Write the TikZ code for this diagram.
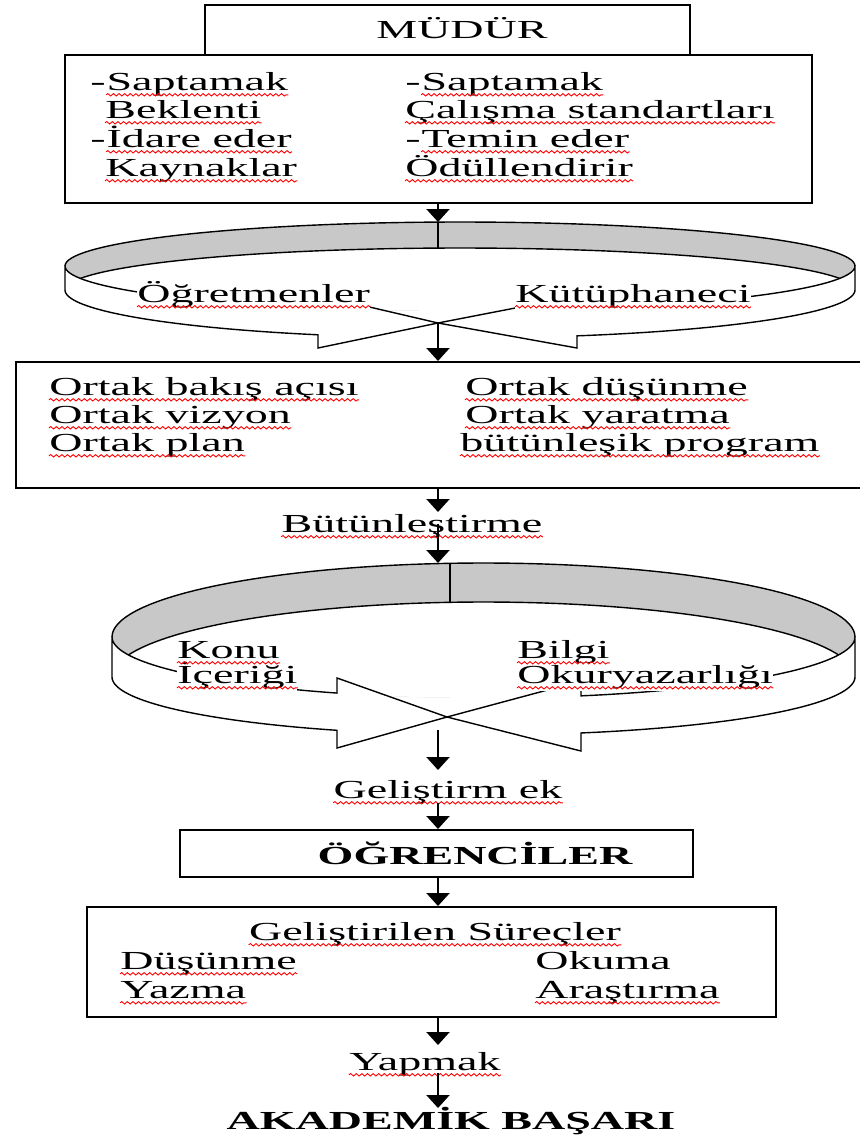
\documentclass[tikz,border=0pt]{standalone}
\usepackage{fontspec}
\setmainfont{Liberation Serif}[FakeStretch=1.77]
\usetikzlibrary{arrows.meta,decorations.pathmorphing,fit}
\definecolor{bandgrey}{RGB}{200,200,200}
\newcommand\fs{\fontsize{13pt}{15pt}\selectfont}
\newcommand\wv[1]{\draw[wavy] ([yshift=-2.4pt]#1.base west) -- ([yshift=-2.4pt]#1.base east);}
\begin{document}
\begin{tikzpicture}[x=0.5pt,y=-0.5pt,
  box/.style={draw, line width=1pt, inner sep=0pt},
  tx/.style={inner sep=0pt, anchor=base west, font=\fs},
  txc/.style={inner sep=0pt, anchor=base, font=\fs},
  wt/.style={fill=white, inner ysep=1pt},
  arr/.style={line width=1.1pt, -{Triangle[width=11.5pt,length=6.5pt]}},
  ring/.style={line width=0.7pt, line join=miter},
  wavy/.style={draw=red, line width=0.45pt, decorate, decoration={snake,amplitude=0.6pt,segment length=2.8pt}}]
\useasboundingbox (0,0) rectangle (859,1136);
\fill[white] (0,0) rectangle (859,1136);

% ---------- boxes ----------
\node[box, fit={(205,5) (690,55)}] (mudur) {};
\node[box, fit={(65,55) (812,203)}] (box1) {};
\node[box, fit={(16,362) (885,488)}] (box2) {};
\node[box, fit={(180,830) (693,877)}] (ogr) {};
\node[box, fit={(87,907) (776,1017)}] (box3) {};

% ---------- ring 1 ----------
\fill[bandgrey] plot[domain=180:0,samples=70,variable=\t] ({460+395*cos(\t)},{266-44*sin(\t)})
  -- plot[domain=0:180,samples=70,variable=\t] ({460+395*cos(\t)},{266+45*sin(\t)}) -- cycle;
\begin{scope}
\clip plot[domain=180:0,samples=70,variable=\t] ({460+395*cos(\t)},{266-44*sin(\t)})
  -- plot[domain=0:180,samples=70,variable=\t] ({460+395*cos(\t)},{266+45*sin(\t)}) -- cycle;
\fill[white] plot[domain=180:0,samples=70,variable=\t] ({460+395*cos(\t)},{290-42*sin(\t)})
  -- plot[domain=0:180,samples=70,variable=\t] ({460+395*cos(\t)},{290+48*sin(\t)}) -- cycle;
\draw[ring] plot[domain=180:0,samples=70,variable=\t] ({460+395*cos(\t)},{290-42*sin(\t)});
\end{scope}
\draw[ring] plot[domain=180:0,samples=70,variable=\t] ({460+395*cos(\t)},{266-44*sin(\t)});
\draw[ring] (438,222) -- (438,248);
\filldraw[ring, fill=white] (65,266) -- (65,290)
  -- plot[domain=180:111.07,samples=40,variable=\t] ({460+395*cos(\t)},{290+48*sin(\t)})
  -- (318,348) -- (438,323) -- (318,295)
  -- plot[domain=111.07:180,samples=40,variable=\t] ({460+395*cos(\t)},{266+45*sin(\t)}) -- cycle;
\filldraw[ring, fill=white] (855,266) -- (855,290)
  -- plot[domain=0:72.77,samples=40,variable=\t] ({460+395*cos(\t)},{290+48*sin(\t)})
  -- (577,348) -- (438,323) -- (577,296)
  -- plot[domain=72.77:0,samples=40,variable=\t] ({460+395*cos(\t)},{266+45*sin(\t)}) -- cycle;

% ---------- ring 2 ----------
\fill[bandgrey] plot[domain=180:0,samples=70,variable=\t] ({483.5+371.5*cos(\t)},{637-74*sin(\t)})
  -- plot[domain=0:180,samples=70,variable=\t] ({483.5+371.5*cos(\t)},{637+61*sin(\t)}) -- cycle;
\begin{scope}
\clip plot[domain=180:0,samples=70,variable=\t] ({483.5+371.5*cos(\t)},{637-74*sin(\t)})
  -- plot[domain=0:180,samples=70,variable=\t] ({483.5+371.5*cos(\t)},{637+61*sin(\t)}) -- cycle;
\fill[white] plot[domain=180:0,samples=70,variable=\t] ({483.5+371.5*cos(\t)},{677-75*sin(\t)})
  -- plot[domain=0:180,samples=70,variable=\t] ({483.5+371.5*cos(\t)},{677+58*sin(\t)}) -- cycle;
\draw[ring] plot[domain=180:0,samples=70,variable=\t] ({483.5+371.5*cos(\t)},{677-75*sin(\t)});
\end{scope}
\draw[ring] plot[domain=180:0,samples=70,variable=\t] ({483.5+371.5*cos(\t)},{637-74*sin(\t)});
\draw[ring] (450,563) -- (450,602);
\filldraw[ring, fill=white] (112,637) -- (112,677)
  -- plot[domain=180:113.22,samples=40,variable=\t] ({483.5+371.5*cos(\t)},{677+58*sin(\t)})
  -- (337,748) -- (447,717) -- (337,678)
  -- plot[domain=113.22:180,samples=40,variable=\t] ({483.5+371.5*cos(\t)},{637+61*sin(\t)}) -- cycle;
\filldraw[ring, fill=white] (855,637) -- (855,677)
  -- plot[domain=0:74.78,samples=40,variable=\t] ({483.5+371.5*cos(\t)},{677+58*sin(\t)})
  -- (581,751) -- (447,717) -- (581,681)
  -- plot[domain=74.78:0,samples=40,variable=\t] ({483.5+371.5*cos(\t)},{637+61*sin(\t)}) -- cycle;

% ---------- texts ----------
\node[txc] (tm) at (462,38) {MÜDÜR};

\node[tx] (d1) at (90,90) {-};
\node[tx] (t1) at (d1.base east) {Saptamak};
\node[tx] (t2) at (105,118) {Beklenti};
\node[tx] (d3) at (90,147) {-};
\node[tx] (t3) at (d3.base east) {İdare eder};
\node[tx] (t4) at (105,176) {Kaynaklar};
\node[tx] (d5) at (405,90) {-};
\node[tx] (t5) at (d5.base east) {Saptamak};
\node[tx] (t6) at (405,118) {Çalışma standartları};
\node[tx] (d7) at (405,147) {-};
\node[tx] (t7) at (d7.base east) {Temin eder};
\node[tx] (t8) at (405,176) {Ödüllendirir};

\node[tx, wt] (r1a) at (137,302) {Öğretmenler};
\node[tx, wt] (r1b) at (515,302) {Kütüphaneci};

\node[tx] (o1) at (49,395) {Ortak bakış açısı};
\node[tx] (o2) at (49,423) {Ortak vizyon};
\node[tx] (o3) at (49,451) {Ortak plan};
\node[tx] (o4) at (465,395) {Ortak düşünme};
\node[tx] (o5) at (465,423) {Ortak yaratma};
\node[tx] (o6) at (460,451) {bütünleşik program};

\node[txc] (but) at (412,532) {Bütünleştirme};

\node[tx, wt] (k1) at (177,658) {Konu};
\node[tx, wt] (k2) at (177,683) {İçeriği};
\node[tx, wt] (k3) at (517,658) {Bilgi};
\node[tx, wt] (k4) at (517,683) {Okuryazarlığı};

\node[txc] (gel) at (448,798) {Geliştirm ek};
\node[txc] (togr) at (475,864) {\bfseries ÖĞRENCİLER};

\node[txc] (s0) at (435,940) {Geliştirilen Süreçler};
\node[tx] (s1) at (120,969) {Düşünme};
\node[tx] (s2) at (535,969) {Okuma};
\node[tx] (s3) at (120,998) {Yazma};
\node[tx] (s4) at (535,998) {Araştırma};

\node[txc] (yap) at (425,1070) {Yapmak};
\node[txc] (aka) at (451,1129) {\bfseries AKADEMİK BAŞARI};

% ---------- spell-check underlines ----------
\foreach \n in {t1,t2,t3,t4,t5,t6,t7,t8,r1a,r1b,o1,o2,o3,o4,o5,o6,but,k1,k2,k3,k4,gel,s0,s1,s3,s4,yap}{\wv{\n}}

% ---------- connectors ----------
\coordinate (r1top) at (438,222);
\coordinate (r1tip) at (438,323);
\coordinate (b0) at (438,512);
\coordinate (b1) at (438,524);
\coordinate (r2top) at (438,563);
\coordinate (r2out) at (438,730);
\coordinate (g0) at (438,770);
\coordinate (g1) at (438,803);
\coordinate (y0) at (438,1045);
\coordinate (y1) at (438,1073);
\coordinate (k0) at (438,1108);

\draw[arr] (r1top |- box1.south) -- (r1top);
\draw[arr] (r1tip) -- (r1tip |- box2.north);
\draw[arr] (b0 |- box2.south) -- (b0);
\draw[arr] (b1) -- (r2top);
\draw[arr] (r2out) -- (g0);
\draw[arr] (g1) -- (g1 |- ogr.north);
\draw[arr] (g1 |- ogr.south) -- (g1 |- box3.north);
\draw[arr] (y0 |- box3.south) -- (y0);
\draw[arr] (y1) -- (k0);
\end{tikzpicture}
\end{document}
